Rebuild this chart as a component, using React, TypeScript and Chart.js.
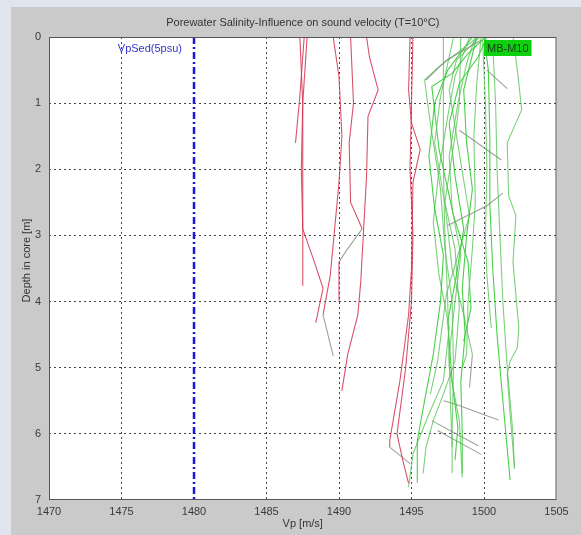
import React, { useEffect, useRef } from 'react';
import { Chart, registerables } from 'chart.js';

Chart.register(...registerables);

// Axis settings
const xMin = 1470;
const xMax = 1505;
const xStep = 5;
const depthMin = 0;
const depthMax = 7;
const depthStep = 1;

const titleText = 'Porewater Salinity-Influence on sound velocity (T=10°C)';
const xTitle = 'Vp [m/s]';
const yTitle = 'Depth in core [m]';
const sedLabel = 'VpSed(5psu)';
const coreLabel = 'MB-M10';

// Reference line: Vp of sediment at 5 psu
const vpSed = 1480;
const vpSedLine: [number, number][] = [[vpSed, 0], [vpSed, 7]];

// Red profiles [Vp, depth]
const red1: [number, number][] = [[1487.3, 0], [1487.5, 1], [1487.5, 2], [1487.5, 3], [1487.5, 3.76]];
const red2: [number, number][] = [[1487.6, 0], [1487.3, 0.9], [1487.0, 1.6]];
const red3: [number, number][] = [[1487.8, 0], [1487.5, 1], [1487.4, 2], [1487.5, 2.9], [1488.3, 3.4], [1488.9, 3.8], [1488.4, 4.32]];
const red4: [number, number][] = [[1489.6, 0], [1490.0, 0.6], [1490.2, 1.5], [1490.0, 2.2], [1489.7, 2.9], [1489.4, 3.6], [1488.9, 4.2]];
const red5: [number, number][] = [[1490.8, 0], [1491.0, 1], [1490.7, 1.6], [1490.8, 2.5], [1491.6, 2.9]];
const red5b: [number, number][] = [[1490.0, 3.4], [1490.0, 4.0]];
const red6: [number, number][] = [[1491.9, 0], [1492.1, 0.3], [1492.7, 0.8], [1492.0, 1.2], [1491.9, 2.1], [1491.5, 3.7], [1491.3, 4.2], [1490.6, 4.8], [1490.2, 5.35]];
const red7: [number, number][] = [[1494.9, 0], [1494.8, 0.8], [1495.0, 1.3], [1495.6, 1.7], [1495.1, 2.2], [1495.0, 3.5], [1494.8, 4.2], [1494.2, 5.2], [1493.5, 6.1], [1493.5, 6.2]];
const red8: [number, number][] = [[1495.1, 0], [1495.0, 1], [1494.9, 2], [1495.1, 3], [1495.0, 4], [1494.6, 5], [1494.0, 6.0], [1494.4, 6.4], [1494.8, 6.75]];

// Green profiles [Vp, depth]
const green1: [number, number][] = [[1499.6, 0], [1496.9, 0.45], [1495.9, 0.65], [1496.3, 1.3], [1497.0, 2.3], [1497.3, 3.2], [1497.8, 4.0], [1497.9, 5.0], [1497.8, 6.0], [1497.8, 6.59]];
const green2: [number, number][] = [[1497.2, 0], [1497.2, 1.0], [1497.2, 2.0], [1497.3, 3.0], [1497.5, 4.0], [1497.6, 5.0], [1498.3, 5.8], [1498.5, 6.66]];
const green3: [number, number][] = [[1500.0, 0], [1500.3, 0.5], [1500.4, 1.5], [1500.4, 2.5], [1500.6, 3.5], [1500.9, 4.5], [1501.3, 5.5], [1501.8, 6.7]];
const green4: [number, number][] = [[1500.6, 0.1], [1500.8, 1.0], [1500.9, 2.0], [1501.1, 3.0], [1501.3, 4.0], [1501.6, 5.0], [1502.0, 6.0], [1502.1, 6.53]];
const green5: [number, number][] = [[1502.0, 0], [1502.3, 0.5], [1502.6, 1.1], [1501.6, 1.6], [1501.7, 2.4], [1502.2, 2.7], [1502.0, 3.4], [1502.4, 4.4], [1502.3, 4.7], [1501.8, 4.9], [1501.6, 5.1]];
const green6: [number, number][] = [[1499.2, 0], [1497.5, 0.5], [1496.6, 1.0], [1496.2, 1.8], [1496.6, 2.6], [1497.2, 3.3], [1497.0, 4.0], [1496.5, 4.8], [1495.9, 5.5], [1495.4, 6.1], [1495.4, 6.74]];
const green7: [number, number][] = [[1499.0, 0], [1498.0, 0.6], [1497.5, 1.2], [1496.9, 2.0], [1496.5, 2.8], [1496.9, 3.6], [1497.6, 4.4], [1497.2, 5.2], [1496.2, 5.7], [1495.1, 6.3], [1494.8, 6.81]];
const green8: [number, number][] = [[1499.4, 0], [1498.8, 0.4], [1498.2, 1.0], [1497.6, 1.8], [1497.8, 2.6], [1498.4, 3.3], [1498.0, 4.0], [1497.6, 4.8], [1497.7, 5.6], [1497.8, 6.2]];
const green9: [number, number][] = [[1499.5, 0], [1498.6, 0.8], [1498.8, 1.6], [1499.2, 2.3], [1498.8, 3.0], [1498.5, 3.8], [1498.7, 4.5], [1498.4, 5.2], [1498.5, 6.0], [1498.5, 6.6]];
const green10: [number, number][] = [[1498.4, 0], [1498.3, 1.0], [1498.0, 1.5], [1497.3, 2.5], [1497.8, 3.5], [1498.6, 4.2], [1499.2, 4.8]];
const green11: [number, number][] = [[1499.8, 0], [1499.5, 0.7], [1499.3, 1.5], [1499.4, 2.5], [1499.2, 3.2], [1498.9, 4.0], [1498.8, 4.8], [1498.5, 5.0]];
const green12: [number, number][] = [[1500.2, 0], [1499.6, 0.3], [1498.3, 0.7], [1497.6, 1.3], [1498.0, 2.1], [1498.6, 2.9], [1498.1, 3.6], [1497.5, 4.3], [1497.8, 5.2], [1498.2, 5.9], [1498.0, 6.4]];
const green13: [number, number][] = [[1497.9, 0], [1497.0, 0.9], [1496.6, 1.6], [1497.2, 2.4], [1498.0, 3.2], [1498.3, 4.1], [1498.0, 4.9], [1497.2, 5.4], [1496.5, 5.8], [1496.0, 6.2], [1495.8, 6.6]];
const green14: [number, number][] = [[1501.6, 5.1], [1501.8, 5.7], [1502.1, 6.5]];
const green15: [number, number][] = [[1500.1, 0], [1498.9, 0.25], [1497.8, 0.55], [1496.4, 0.75], [1496.9, 1.7], [1497.9, 2.7], [1498.9, 3.4], [1499.1, 4.1], [1498.6, 4.6]];
const green16: [number, number][] = [[1499.9, 0.05], [1500.1, 1.0], [1500.2, 2.0], [1500.1, 3.0], [1500.2, 3.6], [1500.5, 4.4]];
const green17: [number, number][] = [[1499.7, 0], [1498.1, 0.35], [1497.6, 0.8], [1498.4, 1.9], [1499.0, 2.7], [1498.2, 3.3], [1497.4, 3.9], [1496.8, 4.9], [1496.3, 5.4]];

// Grey (mixed) profile segments [Vp, depth]
const grey1: [number, number][] = [[1500.2, 0.5], [1501.6, 0.78]];
const grey2: [number, number][] = [[1498.3, 1.41], [1501.2, 1.86]];
const grey3: [number, number][] = [[1501.3, 2.36], [1500.2, 2.55], [1497.5, 2.85]];
const grey4: [number, number][] = [[1497.2, 5.5], [1498.0, 5.55], [1501.0, 5.79]];
const grey5: [number, number][] = [[1496.4, 5.8], [1499.6, 6.18]];
const grey6: [number, number][] = [[1496.8, 5.95], [1499.8, 6.31]];
const grey7: [number, number][] = [[1499.2, 4.8], [1499.0, 5.3]];
const grey8: [number, number][] = [[1488.9, 4.2], [1489.6, 4.82]];
const grey9: [number, number][] = [[1491.6, 2.9], [1490.6, 3.2], [1490.0, 3.4]];
const grey10: [number, number][] = [[1493.5, 6.2], [1494.9, 6.45]];
const grey11: [number, number][] = [[1499.8, 0.05], [1497.4, 0.35], [1496.0, 0.65]];

const redSeries = [red1, red2, red3, red4, red5, red5b, red6, red7, red8];
const greenSeries = [green1, green2, green3, green4, green5, green6, green7, green8, green9, green10, green11, green12, green13, green14, green15, green16, green17];
const greySeries = [grey1, grey2, grey3, grey4, grey5, grey6, grey7, grey8, grey9, grey10, grey11];

const FONT = '"Liberation Sans", Arial, sans-serif';

const toPts = (s: [number, number][]) => s.map(([x, y]) => ({ x, y }));

const decorPlugin = {
  id: 'decor',
  beforeDraw(chart: any) {
    const { ctx, chartArea: a, width, height } = chart;
    ctx.save();
    ctx.fillStyle = '#dfe4ed';
    ctx.fillRect(0, 0, width, height);
    ctx.fillStyle = '#cacaca';
    ctx.fillRect(11, 7, width - 11, height - 7);
    ctx.fillStyle = '#ffffff';
    ctx.fillRect(a.left, a.top, a.right - a.left, a.bottom - a.top);
    ctx.restore();
  },
  afterDatasetsDraw(chart: any) {
    const { ctx, chartArea: a, scales } = chart;
    ctx.save();
    // frame
    ctx.strokeStyle = '#555555';
    ctx.lineWidth = 1;
    ctx.strokeRect(a.left + 0.5, a.top + 0.5, a.right - a.left - 1, a.bottom - a.top - 1);
    const cx = (a.left + a.right) / 2;
    ctx.fillStyle = '#333333';
    ctx.font = `11px ${FONT}`;
    ctx.textAlign = 'center';
    ctx.textBaseline = 'middle';
    ctx.fillText(titleText, cx, 23);
    ctx.fillText(xTitle, cx, 524);
    ctx.save();
    ctx.translate(27, (a.top + a.bottom) / 2 - 8);
    ctx.rotate(-Math.PI / 2);
    ctx.fillText(yTitle, 0, 0);
    ctx.restore();
    // VpSed label
    const xs = scales.x.getPixelForValue(vpSed);
    ctx.fillStyle = '#3434c8';
    ctx.textAlign = 'right';
    ctx.fillText(sedLabel, xs - 12, 49);
    // core label box
    const xb = scales.x.getPixelForValue(1500);
    ctx.font = `11px ${FONT}`;
    const tw = ctx.measureText(coreLabel).width;
    ctx.fillStyle = '#0fd00f';
    ctx.fillRect(xb, 40, tw + 6, 16);
    ctx.fillStyle = '#1a3a1a';
    ctx.textAlign = 'left';
    ctx.fillText(coreLabel, xb + 3, 48.5);
    ctx.restore();
  },
};

export default function App() {
  const ref = useRef<HTMLCanvasElement | null>(null);

  useEffect(() => {
    document.body.style.margin = '0';
    const canvas = ref.current;
    if (!canvas) return;

    const datasets: any[] = [];
    redSeries.forEach((s) =>
      datasets.push({ data: toPts(s), borderColor: 'rgba(212, 50, 80, 0.85)', borderWidth: 1.1 })
    );
    greySeries.forEach((s) =>
      datasets.push({ data: toPts(s), borderColor: 'rgba(130, 140, 130, 0.8)', borderWidth: 1.1 })
    );
    greenSeries.forEach((s, i) =>
      datasets.push({
        data: toPts(s),
        borderColor: i % 3 === 2 ? 'rgba(40, 200, 40, 0.85)' : 'rgba(90, 198, 90, 0.8)',
        borderWidth: 1.1,
      })
    );
    datasets.push({
      data: toPts(vpSedLine),
      borderColor: '#1818d8',
      borderWidth: 2.5,
      borderDash: [7, 3, 2, 3],
    });

    const chart = new Chart(canvas, {
      type: 'scatter',
      data: {
        datasets: datasets.map((d) => ({
          ...d,
          showLine: true,
          pointRadius: 0,
          pointHoverRadius: 0,
          fill: false,
          tension: 0,
        })),
      },
      options: {
        animation: false,
        responsive: false,
        devicePixelRatio: 1,
        events: [],
        layout: { padding: { top: 37, right: 24.5, left: 0, bottom: 0 } },
        plugins: { legend: { display: false }, tooltip: { enabled: false }, title: { display: false } },
        scales: {
          x: {
            type: 'linear',
            min: xMin,
            max: xMax,
            afterFit: (s: any) => {
              s.height = 35;
            },
            ticks: {
              stepSize: xStep,
              autoSkip: false,
              maxRotation: 0,
              padding: 5,
              color: '#3a3a3a',
              font: { family: FONT, size: 11 },
              callback: (v: any) => String(v),
            },
            grid: {
              drawTicks: false,
              lineWidth: 1,
              color: (c: any) =>
                c.tick && (c.tick.value === xMin || c.tick.value === xMax) ? 'rgba(0,0,0,0)' : '#444444',
            },
            border: { display: false, dash: [2, 3] },
          },
          y: {
            type: 'linear',
            reverse: true,
            min: depthMin,
            max: depthMax,
            afterFit: (s: any) => {
              s.width = 49;
            },
            ticks: {
              stepSize: depthStep,
              autoSkip: false,
              padding: 8,
              color: '#3a3a3a',
              font: { family: FONT, size: 11 },
              callback: (v: any) => String(v),
            },
            grid: {
              drawTicks: false,
              lineWidth: 1,
              color: (c: any) =>
                c.tick && (c.tick.value === depthMin || c.tick.value === depthMax) ? 'rgba(0,0,0,0)' : '#444444',
            },
            border: { display: false, dash: [2, 3] },
          },
        },
      },
      plugins: [decorPlugin],
    } as any);

    return () => chart.destroy();
  }, []);

  return (
    <div style={{ width: 581, height: 535 }}>
      <canvas ref={ref} width={581} height={535} style={{ display: 'block', width: 581, height: 535 }} />
    </div>
  );
}
